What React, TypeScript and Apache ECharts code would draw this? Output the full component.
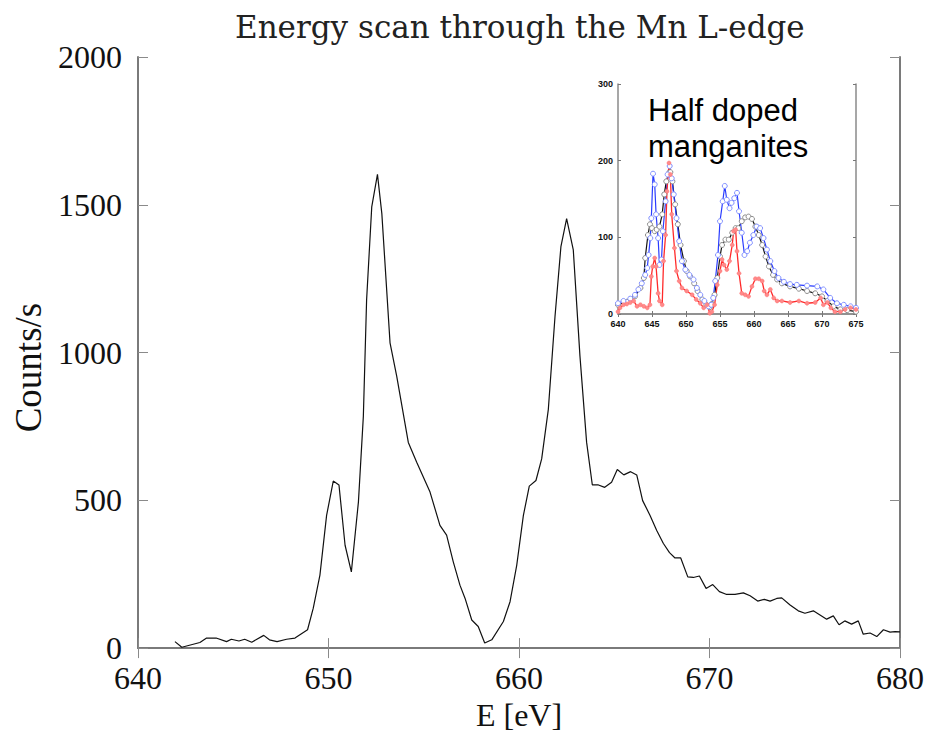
import React, { useEffect, useRef } from "react";
import * as echarts from "echarts";

// Main scan: energy (eV) and counts/s
const mainE = [641.94, 642.3, 643.25, 643.6, 644.1, 644.65, 644.9, 645.3, 645.6, 645.97, 646.6, 646.9, 647.3, 647.8, 648.24, 648.9, 649.2, 649.55, 649.9, 650.25, 650.55, 650.87, 651.2, 651.57, 651.83, 652.0, 652.27, 652.57, 652.8, 653.23, 653.58, 654.19, 654.63, 655.33, 655.85, 656.2, 656.55, 656.9, 657.17, 657.52, 657.86, 658.2, 658.57, 659.18, 659.53, 659.88, 660.23, 660.54, 660.89, 661.19, 661.54, 661.89, 662.2, 662.5, 662.85, 663.2, 663.55, 663.85, 664.17, 664.5, 664.86, 665.16, 665.5, 665.86, 666.18, 666.49, 666.88, 667.23, 667.58, 667.9, 668.19, 668.49, 668.86, 669.15, 669.47, 669.82, 670.17, 670.52, 670.87, 671.34, 671.78, 672.13, 672.53, 672.88, 673.18, 673.53, 673.79, 674.23, 674.66, 675.01, 675.45, 675.8, 676.15, 676.5, 676.8, 677.1, 677.46, 677.81, 678.07, 678.43, 678.78, 679.13, 679.48, 679.74, 680];
const mainCounts = [22, 3, 19, 34, 34, 22, 30, 24, 30, 20, 43, 28, 22, 30, 34, 62, 135, 247, 449, 565, 552, 348, 258, 494, 785, 1178, 1493, 1603, 1470, 1033, 920, 696, 629, 528, 415, 382, 292, 213, 168, 95, 73, 17, 28, 90, 157, 280, 449, 548, 567, 640, 808, 1122, 1358, 1453, 1347, 988, 696, 552, 552, 544, 561, 604, 586, 597, 586, 499, 449, 398, 354, 323, 305, 305, 241, 239, 244, 202, 215, 191, 182, 182, 187, 177, 159, 165, 159, 168, 170, 146, 126, 118, 126, 112, 98, 109, 79, 92, 81, 92, 47, 51, 39, 62, 54, 56, 55];

// Inset: half doped manganites
const blueE = [640, 640.8, 641.8, 642.5, 643.0, 643.5, 644.0, 644.3, 644.5, 644.75, 644.9, 645.15, 645.4, 645.6, 645.9, 646.1, 646.4, 646.6, 647.0, 647.3, 647.6, 647.9, 648.2, 648.6, 649.0, 649.4, 649.9, 650.5, 651.1, 651.6, 652.1, 652.7, 653.3, 653.7, 654.0, 654.3, 654.7, 655.0, 655.4, 655.7, 656.0, 656.4, 656.7, 657.1, 657.5, 657.8, 658.2, 658.6, 659.0, 659.4, 659.9, 660.4, 660.9, 661.4, 661.9, 662.4, 663.0, 663.6, 664.4, 665.3, 666.3, 667.8, 669.3, 670.2, 671.2, 672.2, 673.2, 674.2, 675];
const blueV = [14, 17, 20, 25, 32, 40, 51, 60, 77, 99, 125, 183, 169, 130, 99, 64, 71, 108, 147, 182, 193, 177, 156, 125, 95, 69, 58, 51, 45, 34, 25, 17, 10, 12, 21, 43, 77, 121, 147, 167, 149, 138, 145, 151, 158, 134, 106, 77, 82, 93, 103, 114, 112, 99, 84, 69, 56, 47, 42, 39, 38, 37, 36, 32, 21, 14, 12, 10, 8];
const blackE = [640, 641.3, 642.5, 643.3, 643.8, 644.0, 644.4, 644.7, 645.0, 645.4, 645.7, 646.1, 646.5, 646.8, 647.1, 647.5, 647.7, 648.0, 648.4, 648.8, 649.2, 649.7, 650.1, 650.6, 651.2, 651.7, 652.4, 653.0, 653.5, 653.8, 654.2, 654.6, 655.0, 655.3, 655.8, 656.3, 656.8, 657.3, 657.7, 658.2, 658.7, 659.2, 659.7, 660.2, 660.7, 661.2, 661.7, 662.2, 662.8, 663.4, 664.1, 665.3, 666.6, 667.8, 669.0, 670.0, 670.8, 671.7, 672.7, 673.7, 675];
const blackV = [12, 16, 23, 34, 47, 73, 103, 117, 112, 108, 110, 114, 130, 156, 173, 184, 185, 173, 143, 117, 90, 69, 56, 49, 40, 30, 19, 12, 9, 13, 25, 47, 75, 90, 97, 97, 106, 112, 112, 121, 126, 127, 124, 114, 103, 90, 75, 62, 51, 45, 40, 36, 33, 30, 27, 23, 17, 10, 6, 5, 3];
const redE = [640, 640.3, 640.8, 641.3, 641.8, 642.3, 642.8, 643.3, 643.8, 644.3, 644.7, 644.9, 645.1, 645.4, 645.6, 645.9, 646.1, 646.5, 646.7, 647.0, 647.2, 647.5, 647.7, 647.9, 648.3, 648.6, 649.0, 649.4, 650.1, 650.9, 651.5, 652.1, 652.6, 653.1, 653.5, 653.8, 654.2, 654.6, 655.0, 655.3, 655.6, 656.0, 656.4, 656.8, 657.0, 657.3, 657.5, 657.8, 658.2, 658.7, 659.2, 659.7, 660.2, 660.7, 661.2, 661.5, 661.9, 662.4, 662.9, 663.4, 664.1, 665.3, 666.6, 667.8, 669.0, 669.8, 670.2, 670.8, 671.3, 671.9, 672.7, 673.4, 674.2, 675];
const redV = [3, 8, 12, 13, 15, 17, 10, 12, 10, 8, 12, 49, 62, 73, 62, 27, 17, 12, 69, 103, 160, 197, 182, 130, 86, 56, 43, 34, 30, 25, 19, 14, 8, 12, 1, 3, 12, 38, 56, 71, 64, 58, 69, 90, 108, 110, 82, 53, 27, 25, 23, 36, 46, 46, 43, 30, 25, 32, 21, 17, 17, 15, 17, 14, 15, 21, 12, 15, 8, 3, 3, 6, 8, 6];

const titleText = "Energy scan through the Mn L-edge";
const xName = "E [eV]";
const yName = "Counts/s";
const insetText = "Half doped\nmanganites";

const zip = (xs: number[], ys: number[]) => {
  const n = Math.min(xs.length, ys.length);
  const out: number[][] = [];
  for (let i = 0; i < n; i++) out.push([xs[i], ys[i]]);
  return out;
};

const SERIF = "'Liberation Serif', 'Times New Roman', serif";
const WIDE_SERIF = "'DejaVu Serif', serif";
const SANS = "'Liberation Sans', Arial, sans-serif";
const plain = (v: number) => String(v);

export default function App() {
  const ref = useRef<HTMLDivElement>(null);
  useEffect(() => {
    if (!ref.current) return;
    const chart = echarts.init(ref.current, undefined, { renderer: "svg" });
    const frame = { show: true, lineStyle: { color: "#7a7a7a", width: 2 } };
    const mainTick = { show: true, inside: true, length: 10, lineStyle: { color: "#8a8a8a", width: 1 } };
    const insetFrame = { show: true, lineStyle: { color: "#8a8a8a", width: 1.5 } };
    const insetTick = { show: true, inside: true, length: 3, lineStyle: { color: "#777", width: 1 } };
    const mainLabel = { fontFamily: SERIF, fontSize: 32, lineHeight: 24, color: "#111", formatter: plain };
    const insetLabel = { fontFamily: SANS, fontSize: 9, fontWeight: "bold" as const, color: "#111", formatter: plain };

    chart.setOption({
      animation: false,
      backgroundColor: "#fff",
      title: {
        text: titleText,
        left: 230,
        top: 6,
        textStyle: { fontFamily: WIDE_SERIF, fontSize: 31, fontWeight: "normal", color: "#222" },
      },
      grid: [
        { left: 138, top: 57, width: 762, height: 593, containLabel: false },
        { left: 618, top: 84, width: 238, height: 230, containLabel: false, show: true, backgroundColor: "#fff", borderWidth: 0 },
      ],
      xAxis: [
        {
          gridIndex: 0, type: "value", min: 640, max: 680, interval: 10, position: "bottom",
          axisLine: frame, axisTick: mainTick, splitLine: { show: false },
          axisLabel: { ...mainLabel, margin: 18 },
          name: xName, nameLocation: "middle", nameGap: 46,
          nameTextStyle: { fontFamily: SERIF, fontSize: 32, color: "#111" },
        },
        {
          gridIndex: 0, type: "value", min: 640, max: 680, interval: 10, position: "top",
          axisLine: frame, axisTick: mainTick, splitLine: { show: false }, axisLabel: { show: false },
        },
        {
          gridIndex: 1, type: "value", min: 640, max: 675, interval: 5, position: "bottom",
          axisLine: insetFrame, axisTick: insetTick, splitLine: { show: false },
          axisLabel: { ...insetLabel, margin: 5 },
        },
        {
          gridIndex: 1, type: "value", min: 640, max: 675, interval: 5, position: "top",
          axisLine: insetFrame, axisTick: insetTick, splitLine: { show: false }, axisLabel: { show: false },
        },
      ],
      yAxis: [
        {
          gridIndex: 0, type: "value", min: 0, max: 2000, interval: 500, position: "left",
          axisLine: frame, axisTick: mainTick, splitLine: { show: false },
          axisLabel: { ...mainLabel, margin: 16, padding: [0, 0, 6, 0] },
          name: yName, nameLocation: "middle", nameRotate: 90, nameGap: 84,
          nameTextStyle: { fontFamily: SERIF, fontSize: 37, color: "#111", padding: [0, 30, 0, 0] },
        },
        {
          gridIndex: 0, type: "value", min: 0, max: 2000, interval: 500, position: "right",
          axisLine: frame, axisTick: mainTick, splitLine: { show: false }, axisLabel: { show: false },
        },
        {
          gridIndex: 1, type: "value", min: 0, max: 300, interval: 100, position: "left",
          axisLine: insetFrame, axisTick: insetTick, splitLine: { show: false },
          axisLabel: { ...insetLabel, margin: 5 },
        },
        {
          gridIndex: 1, type: "value", min: 0, max: 300, interval: 100, position: "right",
          axisLine: insetFrame, axisTick: insetTick, splitLine: { show: false }, axisLabel: { show: false },
        },
      ],
      series: [
        {
          type: "line", xAxisIndex: 0, yAxisIndex: 0, data: zip(mainE, mainCounts),
          showSymbol: false, symbol: "none", lineStyle: { color: "#111", width: 1.2 },
        },
        {
          type: "line", xAxisIndex: 2, yAxisIndex: 2, data: zip(blackE, blackV),
          symbol: "circle", symbolSize: 5, lineStyle: { color: "#111", width: 1.2 },
          itemStyle: { color: "#fff", borderColor: "#8c8c8c", borderWidth: 1 },
        },
        {
          type: "line", xAxisIndex: 2, yAxisIndex: 2, data: zip(blueE, blueV),
          symbol: "circle", symbolSize: 5, lineStyle: { color: "#2a3cff", width: 1.2 },
          itemStyle: { color: "#fff", borderColor: "#8190ff", borderWidth: 1 },
        },
        {
          type: "line", xAxisIndex: 2, yAxisIndex: 2, data: zip(redE, redV),
          symbol: "circle", symbolSize: 4, lineStyle: { color: "#ff2a2a", width: 1.3 },
          itemStyle: { color: "#ff8a8a", borderColor: "#ff7070", borderWidth: 0.5 },
        },
      ],
      graphic: [
        {
          type: "text", left: 648, top: 92, z: 100,
          style: { text: insetText, fontFamily: SANS, fontSize: 31, lineHeight: 36, fill: "#000" },
        },
      ],
    });
    return () => chart.dispose();
  }, []);
  return <div ref={ref} style={{ position: "fixed", left: 0, top: 0, width: 940, height: 736 }} />;
}
